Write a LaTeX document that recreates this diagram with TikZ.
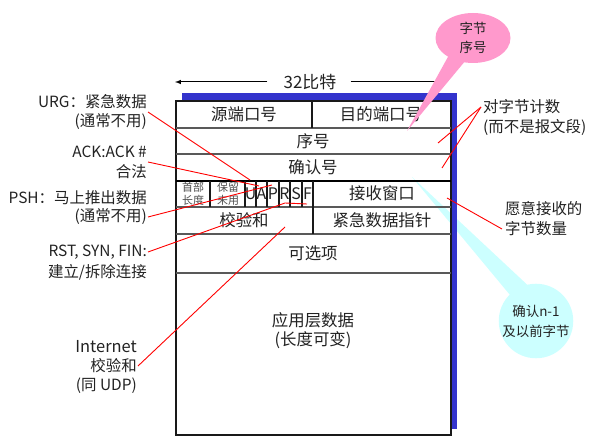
\documentclass[tikz,border=0pt]{standalone}
\usepackage{fontspec}
\setmainfont{Noto Sans CJK SC}
\usetikzlibrary{shapes.geometric}
\definecolor{blueframe}{HTML}{3333CC}
\definecolor{pinkc}{HTML}{FF99CC}
\definecolor{cyanc}{HTML}{CCFFFF}
\definecolor{txt}{HTML}{222222}
\begin{document}
\begin{tikzpicture}[x=1bp,y=-1bp,
  tline/.style={draw=black!65, line width=1.2bp},
  bline/.style={draw=black!90, line width=1.3bp},
  redline/.style={draw=red, line width=0.9bp},
  lbl/.style={align=right, anchor=east, inner sep=0pt, text=txt, font=\fontsize{15.5}{20}\selectfont},
  rlbl/.style={align=left, anchor=west, inner sep=0pt, text=txt, font=\fontsize{15.5}{20}\selectfont},
  cell/.style={inner sep=0pt, text=txt, font=\fontsize{16.5}{20}\selectfont},
  smallcell/.style={inner sep=0pt, text=txt!80, align=center, font=\fontsize{11}{13}\selectfont},
  flag/.style={inner sep=0pt, text=txt, font=\fontsize{16}{16}\selectfont}]
\useasboundingbox (0,0) rectangle (597,438);

% 32 bit arrow
\node[inner sep=0pt, text=txt, font=\fontsize{17}{18}\selectfont] (bits) at (310,82) {32比特};
\coordinate (arL) at (175,82);
\coordinate (arR) at (436,82);
\draw[line width=1bp, -latex] (bits.west) ++(-16,0) -- (arL);
\draw[line width=1bp] (bits.east) ++(14,0) -- (arR);

% blue frame and white table
\fill[blueframe] (182,93) rectangle (457,429);
\fill[white] (176,101) rectangle (451,435);

% cyan callout (behind table lines)
\fill[cyanc] (412,177) -- (510,295) -- (535,292) -- cycle;
\node[circle, fill=cyanc, minimum size=74bp, inner sep=0pt, align=center, text=txt,
  font=\fontsize{13.5}{20}\selectfont] (ccyan) at (536,321) {确认n-1\\及以前字节};
\fill[blueframe] (451,93) rectangle (457,429);

% table lines
\draw[bline] (176,101) rectangle (451,435);
\foreach \yy in {128,154,207,234,273} \draw[tline] (176,\yy) -- (451,\yy);
\draw[draw=black, line width=2bp] (176,181) -- (451,181);
\draw[bline] (312,101) -- (312,128);
\draw[bline] (313,181) -- (313,234);
\foreach \xx in {210,245,256,267,279,290,302} \draw[bline] (\xx,181) -- (\xx,207);

% cell texts
\node[cell] (src) at (244,114) {源端口号};
\node[cell] (dst) at (381,114) {目的端口号};
\node[cell] (seq) at (313,141) {序号};
\node[cell] (ackn) at (313,167) {确认号};
\node[smallcell] (hlen) at (193,194) {首部\\长度};
\node[smallcell] (resv) at (228,194) {保留\\未用};
\node[flag] (fU) at (250.5,194) {U};
\node[flag] (fA) at (261.5,194) {A};
\node[flag] (fP) at (273,194) {P};
\node[flag] (fR) at (284.5,194) {R};
\node[flag] (fS) at (296,194) {S};
\node[flag] (fF) at (307.5,194) {F};
\node[cell] (win) at (382,193) {接收窗口};
\node[cell] (cks) at (244,220) {校验和};
\node[cell] (urgp) at (382,220) {紧急数据指针};
\node[cell] (opt) at (313,253) {可选项};
\node[cell] (data1) at (313,320) {应用层数据};
\node[cell] (data2) at (313,340) {(长度可变)};

% left labels
\node[lbl] (urg) at (147,112) {URG：紧急数据\\(通常不用)};
\node[lbl] (ack) at (147,162) {ACK:ACK \#\\合法};
\node[lbl] (psh1) at (147,198) {PSH：马上推出数据};
\node[lbl] (psh2) at (147,217) {(通常不用)};
\node[lbl] (rst1) at (147,252) {RST, SYN, FIN:};
\node[lbl] (rst2) at (147,272) {建立/拆除连接};
\node[lbl, font=\fontsize{16.5}{20}\selectfont] (inet1) at (137,347) {Internet};
\node[lbl] (inet2) at (137,366) {校验和};
\node[lbl] (inet3) at (137,386) {(同 UDP)};

% right labels
\node[rlbl] (cnt1) at (483,107) {对字节计数};
\node[rlbl] (cnt2) at (483,127) {(而不是报文段)};
\node[rlbl] (rw1) at (505,209) {愿意接收的};
\node[rlbl] (rw2) at (505,229) {字节数量};

% red connectors
\coordinate (pU) at (250,180);
\coordinate (pA) at (259,186);
\coordinate (pP) at (272,185);
\coordinate (pR) at (285,203);
\coordinate (pS) at (307,204);
\coordinate (pCk) at (285,227);
\coordinate (pSeq) at (438,143);
\coordinate (pAck) at (442,168);
\coordinate (pWin) at (447,198);
\draw[redline] ([xshift=1bp]urg.east) -- (pU);
\draw[redline] ([xshift=1bp]ack.east) -- (pA);
\draw[redline] ([xshift=1bp]psh2.east) -- (pP);
\draw[redline] ([xshift=1bp]rst1.east) -- (pR) -- (pS);
\draw[redline] ([xshift=1bp]inet2.east) -- (pCk);
\draw[redline] ([xshift=-2bp]cnt1.west) -- (pSeq);
\draw[redline] ([xshift=-2bp]cnt1.west) -- (pAck);
\draw[redline] (pWin) -- ([xshift=-3bp]rw2.west);

% pink callout
\fill[pinkc] (407,131) -- (449,55) -- (466,60) -- cycle;
\node[ellipse, fill=pinkc, minimum width=75bp, minimum height=50bp, inner sep=0pt, align=center, text=txt,
  font=\fontsize{13.5}{19}\selectfont] (cpink) at (473,38) {字节\\序号};
\end{tikzpicture}
\end{document}
